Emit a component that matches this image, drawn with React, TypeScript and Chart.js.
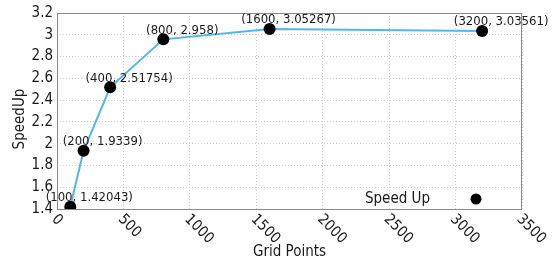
import React, { useEffect, useRef } from "react";
import { Chart, registerables } from "chart.js";

Chart.register(...registerables);

const gridPoints = [100, 200, 400, 800, 1600, 3200];
const speedUp = [1.42043, 1.9339, 2.51754, 2.958, 3.05267, 3.03561];
const pointLabels = ["(100, 1.42043)", "(200, 1.9339)", "(400, 2.51754)", "(800, 2.958)", "(1600, 3.05267)", "(3200, 3.03561)"];
const xTicks = [0, 500, 1000, 1500, 2000, 2500, 3000, 3500];
const yTicks = [1.4, 1.6, 1.8, 2, 2.2, 2.4, 2.6, 2.8, 3, 3.2];
const seriesName = "Speed Up";
const xTitle = "Grid Points";
const yTitle = "SpeedUp";

const FONT = "'DejaVu Sans Condensed', 'DejaVu Sans', sans-serif";
const TEXT = "#1a1a1a";

const overlay = {
  id: "overlay",
  afterDraw(chart: any) {
    const { ctx, chartArea: a, scales } = chart;
    const xs = scales.x, ys = scales.y;
    ctx.save();
    // frame
    ctx.strokeStyle = "#8a8a8a";
    ctx.lineWidth = 1;
    ctx.strokeRect(a.left + 0.5, a.top + 0.5, a.right - a.left - 1, a.bottom - a.top);
    // x tick labels rotated clockwise
    ctx.fillStyle = TEXT;
    ctx.font = `15px ${FONT}`;
    ctx.textAlign = "left";
    ctx.textBaseline = "middle";
    xTicks.forEach((t) => {
      const px = xs.getPixelForValue(t);
      ctx.save();
      ctx.translate(px - 3, a.bottom + 8);
      ctx.rotate(Math.PI / 4);
      ctx.fillText(String(t), 0, 0);
      ctx.restore();
    });
    // axis titles
    ctx.textAlign = "center";
    ctx.fillText(xTitle, (a.left + a.right) / 2, 252);
    ctx.save();
    ctx.translate(20, 119);
    ctx.rotate(-Math.PI / 2);
    ctx.fillText(yTitle, 0, 0);
    ctx.restore();
    // point labels
    ctx.font = `13px ${FONT}`;
    gridPoints.forEach((g, i) => {
      const px = xs.getPixelForValue(g);
      const py = ys.getPixelForValue(speedUp[i]);
      ctx.fillText(pointLabels[i], px + 19, py - 9);
    });
    // legend
    ctx.font = `15px ${FONT}`;
    ctx.textAlign = "right";
    ctx.fillText(seriesName, 430, 199);
    ctx.fillStyle = "#000";
    ctx.beginPath();
    ctx.arc(476, 199, 5.5, 0, Math.PI * 2);
    ctx.fill();
    ctx.restore();
  },
};

export default function App() {
  const ref = useRef<HTMLCanvasElement>(null);
  useEffect(() => {
    if (!ref.current) return;
    const chart = new Chart(ref.current, {
      type: "line",
      data: {
        datasets: [
          {
            label: seriesName,
            data: gridPoints.map((g, i) => ({ x: g, y: speedUp[i] })),
            borderColor: "#56B4E9",
            borderWidth: 2,
            pointRadius: 6,
            pointBackgroundColor: "#000",
            pointBorderColor: "#000",
            pointBorderWidth: 0,
            tension: 0,
          },
        ],
      },
      options: {
        responsive: false,
        animation: false,
        layout: { padding: { left: 0, top: 7, right: 31, bottom: 0 } },
        plugins: { legend: { display: false }, tooltip: { enabled: false } },
        scales: {
          x: {
            type: "linear",
            min: 0,
            max: 3500,
            afterBuildTicks: (s: any) => {
              s.ticks = xTicks.map((v) => ({ value: v }));
            },
            afterFit: (s: any) => {
              s.height = 57;
            },
            ticks: { display: false },
            grid: { color: "#cfcfcf", drawTicks: false, tickLength: 0 },
            border: { display: false, dash: [1, 2] },
          },
          y: {
            type: "linear",
            min: 1.4,
            max: 3.2,
            afterBuildTicks: (s: any) => {
              s.ticks = yTicks.map((v) => ({ value: v }));
            },
            afterFit: (s: any) => {
              s.width = 57;
            },
            ticks: {
              padding: 4,
              color: TEXT,
              font: { family: FONT, size: 15 },
              callback: (v: any) => String(Number(Number(v).toFixed(1))),
            },
            grid: { color: "#cfcfcf", drawTicks: false, tickLength: 0 },
            border: { display: false, dash: [1, 2] },
          },
        },
      },
      plugins: [overlay],
    });
    return () => chart.destroy();
  }, []);
  return (
    <div style={{ position: "fixed", left: 0, top: 0, width: 553, height: 266, background: "#fff" }}>
      <canvas ref={ref} width={553} height={266} />
    </div>
  );
}
